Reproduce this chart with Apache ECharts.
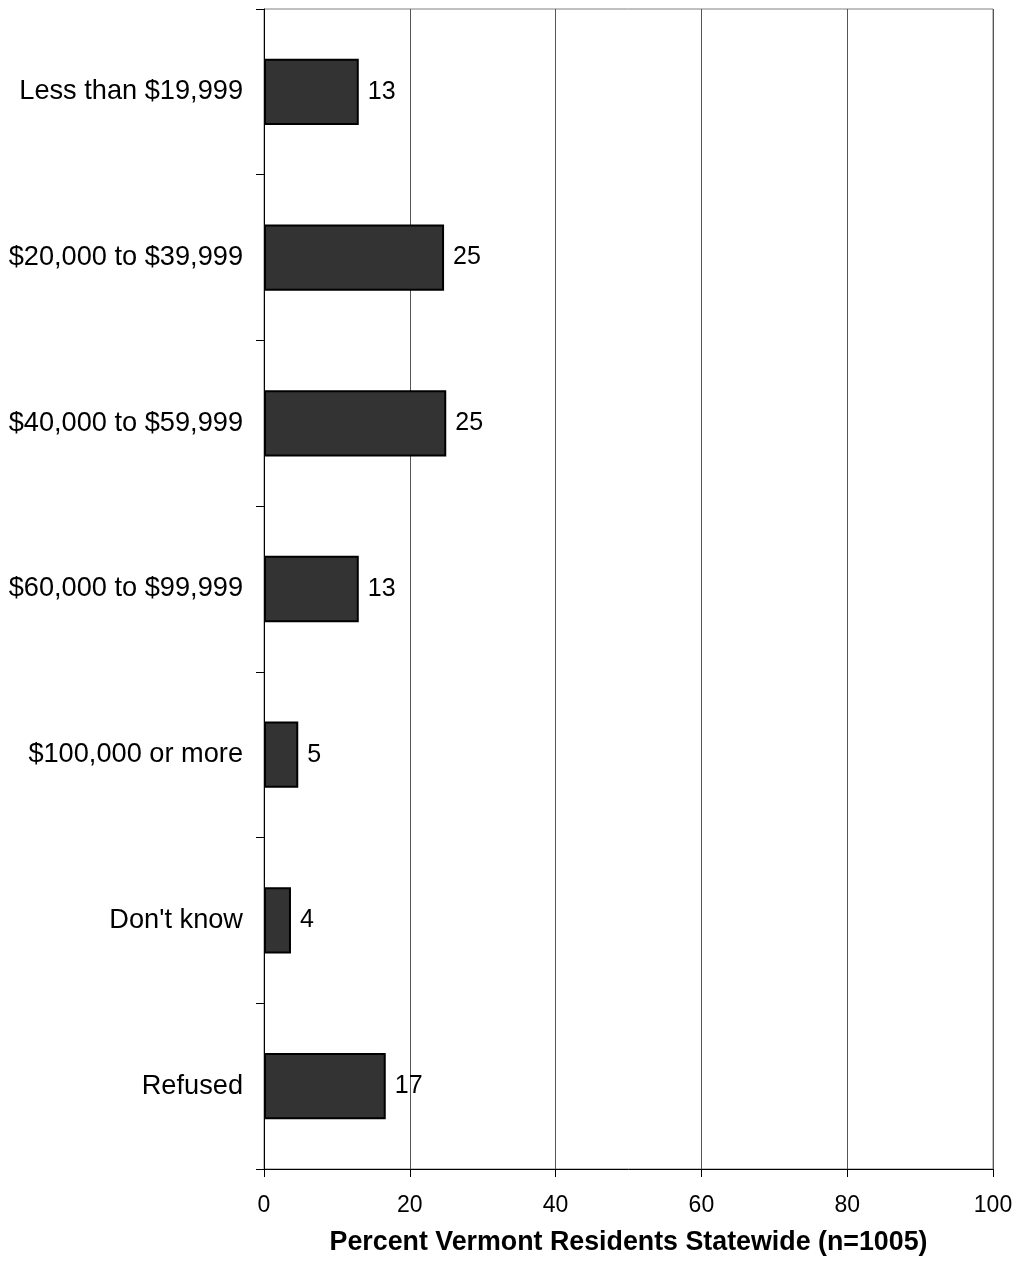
<!DOCTYPE html>
<html>
<head>
<meta charset="utf-8">
<script src="https://cdn.jsdelivr.net/npm/echarts@6/dist/echarts.min.js"></script>
<style>
  html, body { margin: 0; padding: 0; background: #fff; }
  #chart { width: 1018px; height: 1267px; }
</style>
</head>
<body>
<div id="chart"></div>
<script>
// income groups, top to bottom
const categories = [
  "Less than $19,999",
  "$20,000 to $39,999",
  "$40,000 to $59,999",
  "$60,000 to $99,999",
  "$100,000 or more",
  "Don't know",
  "Refused"
];
const percents = [13.0, 24.7, 25.0, 13.0, 4.7, 3.7, 16.7];
const xTicks = [0, 20, 40, 60, 80, 100];
const axisTitle = "Percent Vermont Residents Statewide (n=1005)";

const font = "Arial, 'Liberation Sans', sans-serif";

let myChart = echarts.init(document.getElementById("chart"));
let option = {
  animation: false,
  grid: {
    left: 264,
    right: 25,
    top: 9,
    bottom: 98,
    show: true,
    borderColor: "#808080",
    borderWidth: 1
  },
  xAxis: {
    type: "value",
    min: xTicks[0],
    max: xTicks[xTicks.length - 1],
    interval: 20,
    name: axisTitle,
    nameLocation: "middle",
    nameGap: 60,
    nameMoveOverlap: false,
    nameTextStyle: { fontFamily: font, fontSize: 26.8, fontWeight: "bold", color: "#000" },
    axisLine: { show: true, lineStyle: { color: "#000", width: 1 } },
    axisTick: { show: true, length: 8, lineStyle: { color: "#000" } },
    axisLabel: { fontFamily: font, fontSize: 23, color: "#000", margin: 25 },
    splitLine: { show: true, lineStyle: { color: "#555", width: 1 } }
  },
  yAxis: {
    type: "category",
    data: categories,
    inverse: true,
    axisLine: { show: true, lineStyle: { color: "#000", width: 1 } },
    axisTick: { show: true, length: 8, lineStyle: { color: "#000" } },
    axisLabel: { fontFamily: font, fontSize: 27.2, color: "#000", margin: 21 },
    splitLine: { show: false }
  },
  series: [{
    type: "bar",
    data: percents,
    barCategoryGap: "60%",
    itemStyle: { color: "#333333", borderColor: "#000", borderWidth: 2 },
    label: {
      show: true,
      position: "right",
      distance: 9,
      fontFamily: font,
      fontSize: 25,
      color: "#000",
      formatter: function (p) { return Math.round(p.value); }
    }
  }]
};
myChart.setOption(option);
</script>
</body>
</html>
